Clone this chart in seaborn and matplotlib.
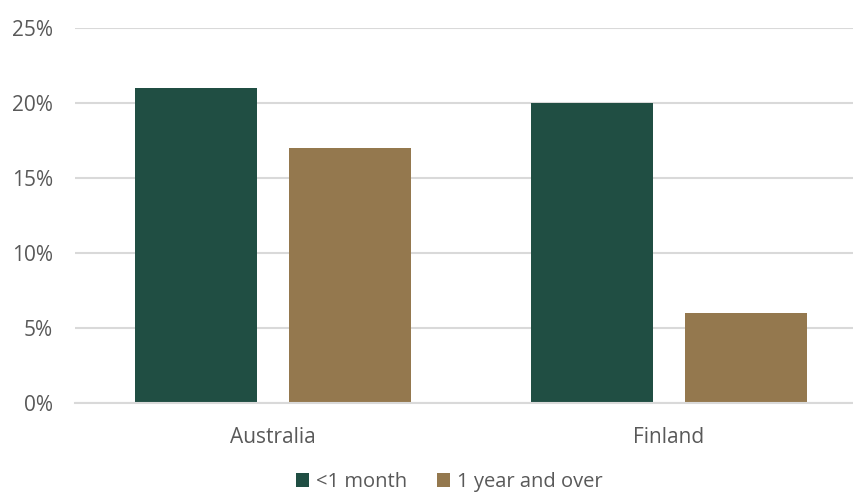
import matplotlib
matplotlib.use("Agg")
import matplotlib.pyplot as plt
from matplotlib.patches import Patch
from matplotlib.ticker import FuncFormatter, MultipleLocator
import pandas as pd
import seaborn as sns

countries = ["Australia", "Finland"]
series = ["<1 month", "1 year and over"]
under_one_month = [21, 20]
one_year_and_over = [17, 6]
colors = ["#204E43", "#94784E"]

df = pd.DataFrame({
    "country": countries * 2,
    "duration": [series[0]] * 2 + [series[1]] * 2,
    "share": under_one_month + one_year_and_over,
})

sns.set_theme(style="white")
plt.rcParams["font.family"] = ["Open Sans", "DejaVu Sans"]

W, H = 854, 494
fig = plt.figure(figsize=(W / 100, H / 100), dpi=100)
ax = fig.add_axes([75 / W, 1 - 403 / H, (854 - 75) / W, (403 - 28) / H])

sns.barplot(
    data=df, x="country", y="share", hue="duration",
    palette=colors, hue_order=series, order=countries,
    width=0.78, gap=0.21, linewidth=0, saturation=1,
    legend=False, ax=ax,
)

ax.set_xlim(-0.5, 1.5 - 13 / 396)
ax.set_ylim(0, 25)
ax.yaxis.set_major_locator(MultipleLocator(5))
ax.yaxis.set_major_formatter(FuncFormatter(lambda v, _: f"{v:.0f}%"))
ax.grid(axis="y", color="#D9D9D9", linewidth=1.5)
ax.set_axisbelow(True)
for side in ["top", "right", "left"]:
    ax.spines[side].set_visible(False)
ax.spines["bottom"].set_color("#D9D9D9")
ax.spines["bottom"].set_linewidth(1.5)
ax.set_xlabel("")
ax.set_ylabel("")
ax.tick_params(axis="both", length=0, labelsize=15, labelcolor="#595959")
ax.tick_params(axis="y", pad=16)
ax.tick_params(axis="x", pad=17)

handles = [Patch(facecolor=c, edgecolor="none") for c in colors]
fig.legend(
    handles, series, loc="center", bbox_to_anchor=(449.5 / W, 1 - 482 / H),
    ncol=2, frameon=False, fontsize=14.5, labelcolor="#595959",
    handlelength=0.65, handleheight=0.65, handletextpad=0.35,
    columnspacing=1.5, borderpad=0,
)

fig.savefig("out.png", dpi=100)
